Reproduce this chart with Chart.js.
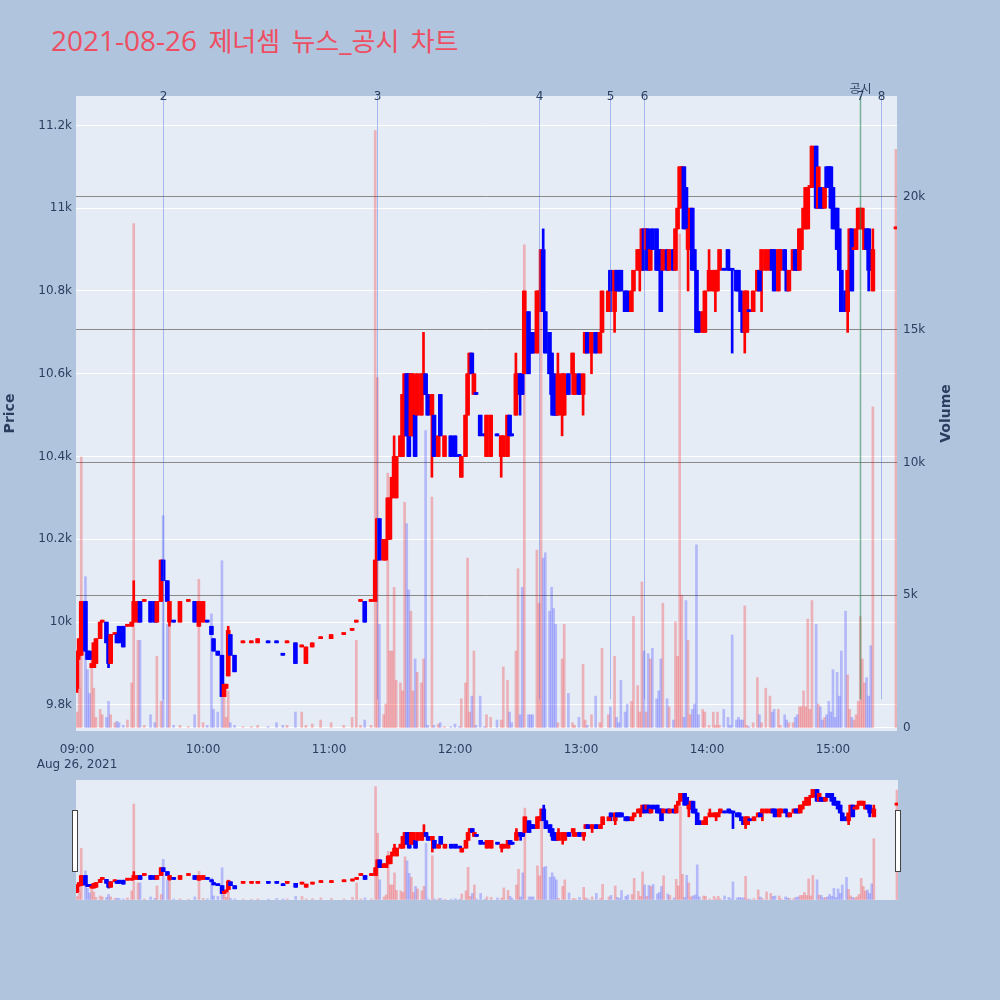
<!DOCTYPE html>
<html lang="ko">
<head>
  <meta charset="UTF-8" />
  <title>2021-08-26 제너셈 뉴스_공시 차트</title>
  <script src="https://cdn.jsdelivr.net/npm/chart.js"></script>
  <style>
    body {
      margin: 0;
      width: 1000px;
      height: 1000px;
      background: #b0c4de;
      font-family: 'DejaVu Sans', 'Noto Sans CJK KR', sans-serif;
      position: relative;
      overflow: hidden;
    }
    #title {
      position: absolute;
      left: 51px;
      top: 25px;
      font-family: 'Open Sans', 'Noto Sans CJK KR', sans-serif;
      font-size: 28px;
      line-height: 30px;
      word-spacing: 4px;
      color: #ee4e61;
      white-space: nowrap;
    }
    #title .ko { font-family: 'Noto Sans CJK KR', sans-serif; font-size: 26px; }
    #main { position: absolute; left: 0; top: 0; }
    #slider { position: absolute; left: 76px; top: 780px; background: #e5ecf6; }
    .handle {
      position: absolute;
      top: 810px;
      width: 4px;
      height: 60px;
      background: #fff;
      border: 1px solid #444;
    }
  </style>
</head>
<body>
  <div id="title">2021-08-26 <span class="ko">제너셈</span> <span class="ko">뉴스</span>_<span class="ko">공시</span> <span class="ko">차트</span></div>
  <canvas id="main" width="1000" height="780"></canvas>
  <canvas id="slider" width="822" height="120"></canvas>
  <div class="handle" style="left:72px"></div>
  <div class="handle" style="left:895px"></div>

  <script>
    // minutes after 09:00, one entry per traded minute
    const minutes = [
      0, 1, 2, 4, 5, 6, 7, 8, 9, 11,
      12, 14, 15, 16, 18, 19, 20, 22, 24, 26,
      27, 29, 30, 32, 35, 37, 38, 40, 41, 43,
      44, 46, 49, 53, 56, 58, 60, 62, 64, 65,
      67, 69, 70, 71, 72, 73, 75, 79, 83, 86,
      91, 95, 98, 100, 104, 107, 109, 112, 116, 121,
      127, 131, 133, 135, 137, 140, 142, 143, 144, 146,
      147, 148, 149, 150, 151, 152, 154, 155, 156, 157,
      158, 159, 160, 161, 162, 164, 165, 166, 167, 169,
      170, 172, 173, 175, 178, 180, 182, 183, 185, 186,
      187, 188, 189, 190, 192, 194, 195, 197, 200, 202,
      203, 205, 206, 207, 209, 210, 211, 212, 213, 215,
      216, 217, 219, 220, 221, 222, 223, 225, 226, 227,
      228, 229, 231, 232, 234, 236, 237, 239, 241, 242,
      243, 245, 247, 249, 250, 253, 254, 256, 257, 258,
      259, 261, 262, 264, 265, 267, 268, 269, 270, 271,
      272, 273, 274, 276, 277, 278, 279, 281, 282, 284,
      285, 286, 287, 288, 289, 290, 291, 292, 293, 294,
      295, 296, 298, 299, 301, 303, 304, 305, 306, 308,
      310, 311, 312, 314, 315, 316, 317, 318, 319, 320,
      322, 324, 325, 326, 328, 330, 331, 332, 334, 335,
      337, 338, 339, 341, 342, 343, 344, 345, 346, 347,
      348, 349, 350, 352, 353, 354, 355, 356, 357, 358,
      359, 360, 361, 362, 363, 364, 366, 367, 368, 369,
      370, 371, 372, 373, 374, 375, 376, 377, 378, 379,
      390
    ];
    const opens = [
      9840, 9920, 9920, 10050, 9930, 9930, 9890, 9890, 9900, 9960,
      10000, 10000, 9970, 9900, 9970, 9970, 9990, 9990, 9990, 9990,
      10000, 10000, 10050, 10050, 10050, 10050, 10000, 10050, 10150, 10100,
      10000, 10000, 10000, 10050, 10050, 9990, 10000, 10000, 9990, 9960,
      9930, 9920, 9820, 9840, 9870, 9970, 9920, 9950, 9950, 9950,
      9950, 9950, 9920, 9950, 9950, 9940, 9900, 9940, 9960, 9960,
      9970, 9980, 10000, 10050, 10050, 10050, 10050, 10150, 10250, 10150,
      10150, 10200, 10200, 10300, 10350, 10300, 10400, 10400, 10450, 10600,
      10600, 10450, 10450, 10500, 10500, 10500, 10550, 10600, 10550, 10500,
      10500, 10400, 10550, 10400, 10450, 10450, 10400, 10350, 10400, 10500,
      10600, 10650, 10550, 10550, 10500, 10450, 10400, 10400, 10450, 10400,
      10400, 10400, 10500, 10450, 10500, 10550, 10600, 10600, 10600, 10750,
      10700, 10700, 10650, 10750, 10800, 10900, 10750, 10700, 10650, 10600,
      10550, 10500, 10500, 10500, 10600, 10600, 10550, 10600, 10550, 10650,
      10700, 10650, 10700, 10650, 10700, 10750, 10850, 10750, 10850, 10850,
      10850, 10800, 10800, 10750, 10800, 10850, 10850, 10850, 10950, 10900,
      10950, 10850, 10950, 10950, 10900, 10900, 10850, 10900, 10850, 10900,
      10850, 10950, 11000, 11050, 11100, 11050, 10900, 10900, 11000, 10900,
      10850, 10750, 10700, 10700, 10800, 10800, 10800, 10800, 10850, 10850,
      10900, 10850, 10850, 10850, 10850, 10800, 10750, 10700, 10700, 10750,
      10750, 10800, 10850, 10850, 10850, 10850, 10900, 10900, 10800, 10850,
      10900, 10850, 10800, 10850, 10900, 10900, 10850, 10900, 10950, 10950,
      10950, 11050, 11050, 11150, 11000, 11050, 11050, 11000, 11100, 11100,
      11100, 11050, 11000, 11000, 10950, 10850, 10800, 10750, 10850, 10950,
      10900, 10900, 10950, 10950, 10950, 10900, 10950, 10950, 10900, 10800,
      10950
    ];
    const highs = [
      9930, 9960, 10050, 10050, 9930, 9930, 9900, 9950, 9960, 10000,
      10000, 10000, 9970, 9970, 9970, 9970, 9990, 9990, 9990, 10000,
      10100, 10050, 10050, 10050, 10050, 10050, 10050, 10150, 10150, 10100,
      10050, 10000, 10050, 10050, 10050, 10050, 10050, 10000, 9990, 9960,
      9930, 9920, 9850, 9850, 9990, 9970, 9920, 9950, 9950, 9960,
      9950, 9950, 9920, 9950, 9950, 9940, 9940, 9950, 9960, 9970,
      9970, 9980, 10000, 10050, 10050, 10050, 10150, 10250, 10250, 10200,
      10200, 10300, 10300, 10350, 10450, 10400, 10450, 10550, 10600, 10600,
      10600, 10600, 10600, 10500, 10600, 10600, 10700, 10600, 10550, 10550,
      10500, 10450, 10550, 10450, 10450, 10450, 10400, 10400, 10500, 10600,
      10650, 10650, 10600, 10550, 10500, 10450, 10500, 10500, 10450, 10450,
      10450, 10500, 10500, 10450, 10650, 10600, 10600, 10600, 10800, 10750,
      10700, 10700, 10800, 10800, 10900, 10950, 10750, 10700, 10650, 10600,
      10550, 10650, 10600, 10600, 10600, 10650, 10600, 10600, 10600, 10700,
      10700, 10700, 10700, 10700, 10800, 10800, 10850, 10850, 10850, 10850,
      10850, 10800, 10800, 10800, 10850, 10900, 10900, 10950, 10950, 10950,
      10950, 10900, 10950, 10950, 10900, 10900, 10900, 10900, 10900, 10900,
      10950, 11000, 11100, 11100, 11100, 11050, 11000, 11000, 11000, 10900,
      10850, 10750, 10750, 10800, 10900, 10850, 10850, 10850, 10900, 10850,
      10900, 10850, 10850, 10850, 10850, 10800, 10750, 10800, 10800, 10750,
      10800, 10850, 10850, 10900, 10900, 10900, 10900, 10900, 10900, 10900,
      10900, 10850, 10850, 10900, 10900, 10900, 10950, 10950, 11000, 11050,
      11050, 11050, 11150, 11150, 11100, 11050, 11050, 11050, 11100, 11100,
      11100, 11050, 11000, 11000, 10950, 10850, 10800, 10850, 10950, 10950,
      10900, 10950, 11000, 11000, 11000, 10950, 10950, 10950, 10900, 10950,
      10950
    ];
    const lows = [
      9830, 9910, 9920, 9930, 9910, 9910, 9890, 9890, 9900, 9960,
      10000, 9950, 9890, 9900, 9970, 9950, 9950, 9940, 9990, 9990,
      10000, 10000, 10000, 10050, 10000, 10000, 10000, 10050, 10100, 10050,
      9990, 10000, 10000, 10050, 10000, 9990, 10000, 10000, 9970, 9930,
      9920, 9820, 9820, 9840, 9870, 9920, 9880, 9950, 9950, 9950,
      9950, 9950, 9920, 9950, 9900, 9940, 9900, 9940, 9960, 9960,
      9970, 9980, 10000, 10050, 10000, 10050, 10050, 10150, 10150, 10150,
      10150, 10200, 10200, 10300, 10350, 10300, 10400, 10400, 10450, 10450,
      10400, 10450, 10450, 10400, 10500, 10500, 10550, 10550, 10500, 10350,
      10400, 10400, 10450, 10400, 10400, 10400, 10400, 10350, 10400, 10500,
      10600, 10600, 10550, 10550, 10450, 10450, 10400, 10400, 10450, 10350,
      10400, 10400, 10450, 10450, 10500, 10550, 10500, 10550, 10600, 10600,
      10650, 10650, 10650, 10750, 10800, 10750, 10650, 10600, 10500, 10500,
      10500, 10500, 10450, 10500, 10550, 10550, 10550, 10550, 10500, 10650,
      10650, 10600, 10650, 10650, 10700, 10750, 10750, 10700, 10800, 10800,
      10800, 10750, 10750, 10750, 10800, 10850, 10800, 10850, 10850, 10900,
      10850, 10850, 10900, 10850, 10850, 10750, 10850, 10850, 10850, 10850,
      10850, 10950, 11000, 11050, 10950, 10950, 10800, 10900, 10850, 10850,
      10700, 10700, 10700, 10700, 10800, 10800, 10750, 10800, 10850, 10850,
      10850, 10850, 10650, 10800, 10800, 10750, 10700, 10650, 10700, 10750,
      10750, 10800, 10800, 10750, 10850, 10850, 10850, 10800, 10800, 10850,
      10850, 10800, 10800, 10850, 10850, 10850, 10850, 10900, 10950, 10950,
      10950, 11050, 11050, 11000, 11000, 11000, 11000, 11000, 11050, 11050,
      11000, 10950, 10950, 10900, 10850, 10750, 10750, 10700, 10850, 10800,
      10900, 10900, 10950, 10950, 10950, 10900, 10900, 10800, 10850, 10800,
      10950
    ];
    const closes = [
      9930, 9960, 10050, 9930, 9910, 9910, 9900, 9950, 9960, 10000,
      10000, 9950, 9900, 9970, 9970, 9950, 9950, 9940, 9990, 10000,
      10050, 10050, 10000, 10050, 10000, 10000, 10050, 10150, 10100, 10050,
      10050, 10000, 10050, 10050, 10000, 10050, 10050, 10000, 9970, 9930,
      9920, 9820, 9850, 9850, 9980, 9920, 9880, 9950, 9950, 9960,
      9950, 9950, 9920, 9950, 9900, 9940, 9940, 9950, 9960, 9970,
      9970, 9980, 10000, 10050, 10000, 10050, 10150, 10250, 10150, 10200,
      10200, 10300, 10300, 10350, 10400, 10400, 10450, 10550, 10600, 10450,
      10400, 10600, 10600, 10400, 10600, 10600, 10600, 10550, 10500, 10550,
      10400, 10450, 10450, 10450, 10400, 10400, 10400, 10400, 10500, 10600,
      10650, 10600, 10600, 10550, 10450, 10450, 10500, 10500, 10450, 10450,
      10450, 10500, 10450, 10450, 10600, 10600, 10550, 10550, 10800, 10600,
      10650, 10650, 10800, 10800, 10900, 10750, 10650, 10600, 10550, 10500,
      10500, 10600, 10600, 10600, 10550, 10650, 10600, 10550, 10600, 10700,
      10650, 10700, 10650, 10700, 10800, 10800, 10800, 10850, 10800, 10800,
      10800, 10750, 10750, 10800, 10850, 10900, 10900, 10950, 10850, 10950,
      10850, 10900, 10900, 10850, 10850, 10750, 10900, 10850, 10900, 10850,
      10950, 11000, 11100, 11100, 10950, 10950, 10950, 11000, 10850, 10850,
      10700, 10700, 10750, 10800, 10850, 10850, 10850, 10850, 10900, 10850,
      10850, 10850, 10850, 10800, 10800, 10750, 10700, 10800, 10800, 10750,
      10800, 10850, 10800, 10900, 10900, 10900, 10850, 10800, 10900, 10900,
      10850, 10800, 10850, 10900, 10850, 10850, 10950, 10950, 11000, 11050,
      11050, 11050, 11150, 11000, 11100, 11000, 11000, 11050, 11050, 11050,
      11000, 10950, 10950, 10900, 10850, 10750, 10750, 10850, 10950, 10800,
      10900, 10950, 11000, 11000, 11000, 10950, 10900, 10850, 10850, 10900,
      10950
    ];
    const volumes = [
      600, 1500, 10200, 5700, 2200, 1300, 2600, 1500, 400, 700,
      500, 400, 1000, 500, 200, 250, 200, 100, 300, 1700,
      19000, 3300, 3300, 100, 500, 200, 2700, 1000, 8000, 3900,
      3800, 100, 100, 50, 500, 5600, 200, 100, 4300, 700,
      600, 6300, 1300, 400, 1400, 200, 100, 50, 50, 100,
      50, 200, 100, 100, 600, 600, 100, 150, 300, 200,
      100, 400, 3300, 100, 300, 100, 22500, 13200, 3900, 500,
      900, 9600, 2900, 2900, 5300, 1800, 1700, 1400, 8500, 7700,
      5200, 4400, 1400, 2600, 2100, 1700, 2600, 11200, 100, 8700,
      100, 150, 200, 50, 50, 150, 50, 1100, 1700, 6400,
      600, 1200, 2900, 100, 1200, 50, 500, 400, 300, 300,
      2300, 1800, 600, 200, 2900, 6000, 500, 5300, 18200, 500,
      500, 500, 6700, 4700, 15800, 6400, 6600, 4400, 5300, 4500,
      3900, 200, 2600, 3900, 1300, 200, 100, 400, 2400, 300,
      100, 500, 1200, 200, 3000, 500, 800, 2700, 400, 200,
      1800, 600, 900, 1000, 4200, 1600, 600, 5500, 2900, 600,
      2800, 2600, 3000, 1100, 1400, 2600, 4700, 1100, 800, 300,
      4000, 2700, 18600, 5000, 400, 4800, 3300, 500, 700, 900,
      6900, 500, 700, 600, 100, 600, 100, 600, 100, 700,
      400, 100, 3500, 300, 400, 300, 300, 4600, 100, 50,
      200, 1900, 500, 200, 1500, 1200, 600, 700, 700, 100,
      500, 300, 200, 200, 400, 500, 800, 800, 1400, 800,
      4100, 700, 4800, 3900, 900, 800, 300, 400, 500, 1000,
      600, 2200, 400, 2100, 1200, 2900, 4400, 2000, 700, 400,
      300, 500, 1000, 4200, 2600, 1700, 1900, 1200, 3100, 12100,
      21800
    ];

    // news / disclosure markers (minutes after 09:00)
    const newsMinutes = [41, 143, 220, 254, 270, 373, 383];
    const newsLabels = ['2', '3', '4', '5', '6', '7', '8'];
    const newsKinds = ['뉴스', '뉴스', '뉴스', '뉴스', '뉴스', '공시', '뉴스'];

    const hourTicks = [0, 60, 120, 180, 240, 300, 360];
    const priceTicks = [9800, 10000, 10200, 10400, 10600, 10800, 11000, 11200];
    const volumeTicks = [0, 5000, 10000, 15000, 20000];
    const xRange = [-0.5, 390.5];
    const priceRange = [9737, 11271];
    const volumeRange = [-113, 23804];

    const RED = '#ff0000';
    const BLUE = '#0000ff';
    const TEXT = '#2a3f5f';
    Chart.defaults.font.family = "'DejaVu Sans', 'Noto Sans CJK KR', sans-serif";
    Chart.defaults.color = TEXT;

    // plotly-style up/down: equal open/close compares with the previous close
    const isUp = [];
    let prevClose = null, up = true;
    for (let i = 0; i < minutes.length; i++) {
      if (closes[i] !== opens[i]) up = closes[i] > opens[i];
      else if (prevClose !== null && closes[i] !== prevClose) up = closes[i] > prevClose;
      isUp.push(up);
      prevClose = closes[i];
    }

    function makeDatasets() {
      const candleCol = isUp.map(u => u ? RED : BLUE);
      const volCol = isUp.map(u => u ? 'rgba(255,0,0,0.25)' : 'rgba(0,0,255,0.22)');
      return [
        {
          label: 'body',
          data: minutes.map((m, i) => ({ x: m, y: [opens[i], closes[i]] })),
          backgroundColor: candleCol,
          barThickness: 4,
          minBarLength: 2,
          grouped: false,
          yAxisID: 'y',
          order: 0
        },
        {
          label: 'wick',
          data: minutes.map((m, i) => ({ x: m, y: [lows[i], highs[i]] })),
          backgroundColor: candleCol,
          barThickness: 2,
          minBarLength: 2,
          grouped: false,
          yAxisID: 'y',
          order: 1
        },
        {
          label: 'volume',
          data: minutes.map((m, i) => ({ x: m, y: volumes[i] })),
          backgroundColor: volCol,
          barThickness: 2,
          grouped: false,
          yAxisID: 'y1',
          order: 2
        }
      ];
    }

    const plotBg = {
      id: 'plotBg',
      beforeDraw(chart) {
        const a = chart.chartArea;
        chart.ctx.save();
        chart.ctx.fillStyle = '#e5ecf6';
        chart.ctx.fillRect(a.left, a.top, a.right - a.left, a.bottom - a.top);
        chart.ctx.restore();
      }
    };

    const newsLines = {
      id: 'newsLines',
      afterDatasetsDraw(chart) {
        const { ctx, chartArea: a, scales: { x } } = chart;
        const bottom = a.bottom - (a.bottom - a.top) * 0.05;
        ctx.save();
        ctx.font = "12px 'DejaVu Sans', 'Noto Sans CJK KR', sans-serif";
        ctx.textAlign = 'center';
        ctx.textBaseline = 'middle';
        newsMinutes.forEach((m, i) => {
          const px = Math.round(x.getPixelForValue(m)) + 0.5;
          const disclosure = newsKinds[i] === '공시';
          ctx.strokeStyle = disclosure ? 'rgba(46,139,87,0.6)' : 'rgba(65,105,225,0.4)';
          ctx.lineWidth = disclosure ? 1.5 : 1;
          ctx.beginPath();
          ctx.moveTo(px, a.top);
          ctx.lineTo(px, bottom);
          ctx.stroke();
          ctx.fillStyle = TEXT;
          ctx.fillText(newsLabels[i], px, a.top + 1);
          if (disclosure) ctx.fillText(newsKinds[i], px, a.top - 6);
        });
        ctx.restore();
      }
    };

    const volumeTitle = {
      id: 'volumeTitle',
      afterDraw(chart) {
        const { ctx, chartArea: a } = chart;
        ctx.save();
        ctx.translate(946, (a.top + a.bottom) / 2);
        ctx.rotate(-Math.PI / 2);
        ctx.font = "bold 14px 'DejaVu Sans', sans-serif";
        ctx.fillStyle = TEXT;
        ctx.textAlign = 'center';
        ctx.textBaseline = 'middle';
        ctx.fillText('Volume', 0, 0);
        ctx.restore();
      }
    };

    function hhmm(v) {
      const h = 9 + Math.floor(v / 60), m = v % 60;
      return String(h).padStart(2, '0') + ':' + String(m).padStart(2, '0');
    }

    new Chart(document.getElementById('main'), {
      type: 'bar',
      data: { datasets: makeDatasets() },
      options: {
        responsive: false,
        animation: false,
        layout: { padding: { top: 96, right: 44, left: 0, bottom: 0 } },
        plugins: { legend: { display: false }, tooltip: { enabled: false } },
        scales: {
          x: {
            type: 'linear',
            min: xRange[0],
            max: xRange[1],
            offset: false,
            grid: { display: false },
            border: { display: false },
            afterBuildTicks: s => { s.ticks = hourTicks.map(v => ({ value: v })); },
            afterFit: s => { s.height = 49; },
            ticks: {
              autoSkip: false,
              maxRotation: 0,
              padding: 4,
              font: { size: 12 },
              callback: (v, i) => i === 0 ? [hhmm(v), 'Aug 26, 2021'] : hhmm(v)
            }
          },
          y: {
            position: 'left',
            min: priceRange[0],
            max: priceRange[1],
            grid: { color: '#ffffff', drawTicks: false },
            border: { display: false },
            afterBuildTicks: s => { s.ticks = priceTicks.map(v => ({ value: v })); },
            afterFit: s => { s.width = 76; },
            ticks: { padding: 4, font: { size: 12 }, callback: v => (v / 1000) + 'k' },
            title: { display: true, text: 'Price', font: { size: 14, weight: 'bold' }, padding: { top: 2, bottom: 0 } }
          },
          y1: {
            position: 'right',
            min: volumeRange[0],
            max: volumeRange[1],
            grid: { color: c => c.tick && c.tick.value === 0 ? '#ffffff' : '#8a8a8a', drawTicks: false },
            border: { display: false },
            afterBuildTicks: s => { s.ticks = volumeTicks.map(v => ({ value: v })); },
            afterFit: s => { s.width = 59; },
            ticks: { padding: 6, font: { size: 12 }, callback: v => v === 0 ? '0' : (v / 1000) + 'k' }
          }
        }
      },
      plugins: [plotBg, newsLines, volumeTitle]
    });

    // range slider: same traces, compressed
    new Chart(document.getElementById('slider'), {
      type: 'bar',
      data: { datasets: makeDatasets() },
      options: {
        responsive: false,
        animation: false,
        layout: { padding: 0 },
        plugins: { legend: { display: false }, tooltip: { enabled: false } },
        scales: {
          x: { type: 'linear', display: false, min: xRange[0], max: xRange[1], offset: false },
          y: { display: false, min: priceRange[0], max: priceRange[1] },
          y1: { display: false, position: 'right', min: volumeRange[0], max: volumeRange[1] }
        }
      }
    });
  </script>
</body>
</html>
